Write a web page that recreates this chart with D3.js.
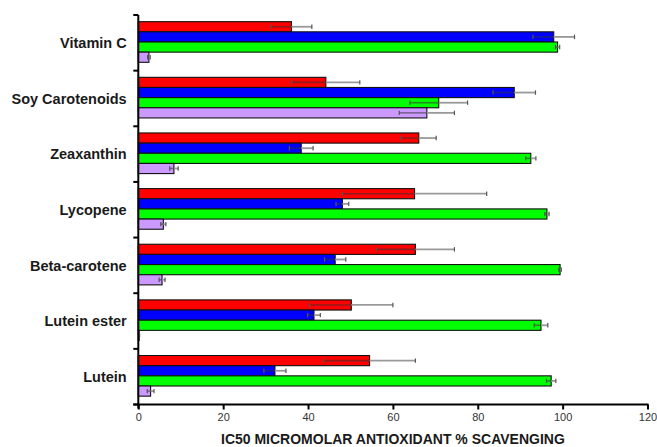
<!DOCTYPE html>
<html>
<head>
<meta charset="utf-8">
<script src="https://cdn.jsdelivr.net/npm/d3@7"></script>
<style>
  html, body { margin: 0; padding: 0; background: #fff; }
  svg { display: block; }
  text { font-family: "Liberation Sans", Arial, sans-serif; }
</style>
</head>
<body>
<svg id="chart" width="657" height="447"></svg>
<script>
// Compounds, listed top to bottom
const categories = ["Vitamin C", "Soy Carotenoids", "Zeaxanthin", "Lycopene", "Beta-carotene", "Lutein ester", "Lutein"];

// Four assay series (mean values) and their error half-widths
const seriesNames = ["red", "blue", "green", "purple"];
const redValues    = [36.1, 44.2, 66.1, 65.1, 65.3, 50.2, 54.5];
const redErrors    = [4.8, 8.0, 4.1, 17.0, 9.2, 9.8, 10.8];
const blueValues   = [97.9, 88.6, 38.4, 48.1, 46.4, 41.4, 32.2];
const blueErrors   = [4.9, 5.0, 2.8, 1.5, 2.5, 1.5, 2.6];
const greenValues  = [98.8, 70.8, 92.5, 96.3, 99.4, 94.9, 97.3];
const greenErrors  = [0.5, 6.8, 1.2, 0.5, 0.3, 1.6, 1.1];
const purpleValues = [2.5, 68.0, 8.4, 5.9, 5.6, 0.2, 2.9];
const purpleErrors = [0.3, 6.5, 1.0, 0.6, 0.7, 0.1, 0.8];

const xTicks = [0, 20, 40, 60, 80, 100, 120];
const xTitle = "IC50 MICROMOLAR ANTIOXIDANT % SCAVENGING";

const colors = { red: "#ff0000", blue: "#0000ff", green: "#00ff00", purple: "#cc99ff" };
const valuesBySeries = { red: redValues, blue: blueValues, green: greenValues, purple: purpleValues };
const errorsBySeries = { red: redErrors, blue: blueErrors, green: greenErrors, purple: purpleErrors };

const rows = categories.map((c, i) => ({
  category: c,
  bars: seriesNames.map(s => ({ series: s, value: valuesBySeries[s][i], err: errorsBySeries[s][i] }))
}));

const svg = d3.select("#chart");
const plot = { left: 138.3, right: 647.5, top: 15, bottom: 404.5 };

const x = d3.scaleLinear().domain([0, 120]).range([plot.left, plot.right]);
const y = d3.scaleBand().domain(categories).range([plot.top, plot.bottom]).paddingInner(0).paddingOuter(0);
const bw = y.bandwidth();
const inner = d3.scaleBand().domain(seriesNames).range([bw * 0.12, bw * 0.85]).padding(0);

// Bars
const groups = svg.append("g").selectAll("g")
  .data(rows).join("g")
  .attr("transform", d => `translate(0,${y(d.category)})`);

groups.selectAll("rect")
  .data(d => d.bars).join("rect")
  .attr("x", x(0))
  .attr("y", d => inner(d.series))
  .attr("width", d => Math.max(0.8, x(d.value) - x(0)))
  .attr("height", inner.bandwidth())
  .attr("fill", d => colors[d.series])
  .attr("stroke", "#111")
  .attr("stroke-width", 1.1);

// Error bars: whisker through the bar end with caps
const eb = groups.selectAll("g.err")
  .data(d => d.bars).join("g").attr("class", "err")
  .attr("transform", d => `translate(0,${inner(d.series) + inner.bandwidth() / 2})`);

eb.append("line")
  .attr("x1", d => x(Math.max(0, d.value - d.err)))
  .attr("x2", d => x(d.value))
  .attr("stroke", "#333").attr("stroke-opacity", 0.55).attr("stroke-width", 1.6);
eb.append("line")
  .attr("x1", d => x(d.value))
  .attr("x2", d => x(d.value + d.err))
  .attr("stroke", "#999").attr("stroke-width", 1.8);
eb.selectAll("line.cap")
  .data(d => [Math.max(0, d.value - d.err), d.value + d.err]).join("line")
  .attr("class", "cap")
  .attr("x1", v => x(v)).attr("x2", v => x(v))
  .attr("y1", -2.2).attr("y2", 2.2)
  .attr("stroke", "#555").attr("stroke-width", 1.2);

// X axis
const xAxis = svg.append("g")
  .attr("transform", `translate(0,${plot.bottom})`)
  .call(d3.axisBottom(x).tickValues(xTicks).tickSize(5).tickSizeOuter(0).tickPadding(4));
xAxis.select(".domain").attr("d", `M${plot.left - 5},0H${plot.right + 1}`)
  .attr("stroke", "#000").attr("stroke-width", 2);
xAxis.selectAll(".tick line").attr("stroke", "#000").attr("stroke-width", 2);
xAxis.selectAll(".tick text")
  .attr("font-size", 11).attr("fill", "#333")
  .style("font-family", "'Liberation Sans', Arial, sans-serif");

// Y axis: line with ticks at category boundaries
const yAxis = svg.append("g");
yAxis.append("line")
  .attr("x1", plot.left).attr("x2", plot.left)
  .attr("y1", plot.top).attr("y2", plot.bottom + 4)
  .attr("stroke", "#000").attr("stroke-width", 2);
const boundaries = categories.map(c => y(c)).concat([plot.bottom]);
yAxis.selectAll("line.tick")
  .data(boundaries).join("line").attr("class", "tick")
  .attr("x1", plot.left - 5).attr("x2", plot.left)
  .attr("y1", d => d).attr("y2", d => d)
  .attr("stroke", "#000").attr("stroke-width", 2);

// Category labels
yAxis.selectAll("text")
  .data(categories).join("text")
  .attr("x", 126.7)
  .attr("y", c => y(c) + bw / 2)
  .attr("dy", "0.36em")
  .attr("text-anchor", "end")
  .attr("font-size", 14.5)
  .attr("font-weight", "bold")
  .attr("fill", "#1a1a1a")
  .text(c => c);

// X axis title
svg.append("text")
  .attr("x", x(60))
  .attr("y", 444)
  .attr("text-anchor", "middle")
  .attr("font-size", 14)
  .attr("font-weight", "bold")
  .attr("fill", "#1a1a1a")
  .text(xTitle);
</script>
</body>
</html>
